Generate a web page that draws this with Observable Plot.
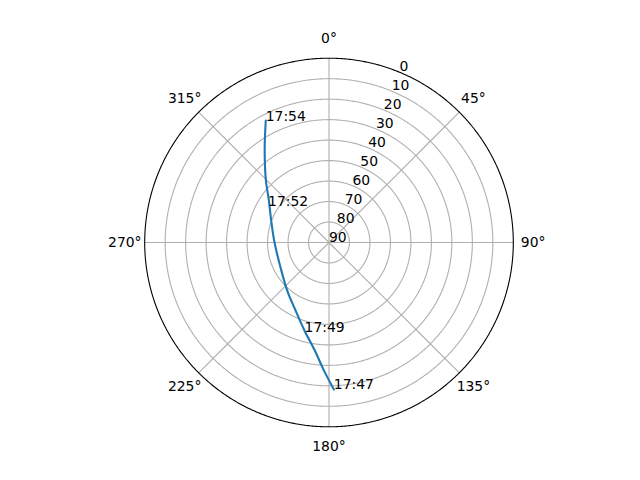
<!DOCTYPE html>
<html><head><meta charset="utf-8">
<script src="https://cdn.jsdelivr.net/npm/d3@7"></script>
<script src="https://cdn.jsdelivr.net/npm/@observablehq/plot@0.6"></script>
<style>body{margin:0;background:#fff}</style>
</head><body><div id="chart"></div>
<script>
// Satellite pass: azimuth (deg, clockwise from north) and elevation (deg)
const azimuth   = [178.1, 182.3, 187.5, 195.6, 206.2, 221.0, 243.0, 270.0, 290.8, 304.9, 314.5, 321.9, 327.0, 332.6];
const elevation = [18.2, 27.5, 36.8, 45.4, 53.0, 58.9, 63.4, 63.4, 59.8, 54.2, 46.8, 39.2, 32.4, 22.9];

const labelTimes = ["17:47", "17:49", "17:52", "17:54"];
const labelAz    = [178.1, 195.2, 301.2, 332.6];
const labelEl    = [18.2, 44.5, 55.2, 22.9];

const ringLevels  = [10, 20, 30, 40, 50, 60, 70, 80];
const radialTicks = [0, 10, 20, 30, 40, 50, 60, 70, 80, 90];
const angleTicks  = [0, 45, 90, 135, 180, 225, 270, 315];

const track  = azimuth.map((a, i) => ({az: a, el: elevation[i]}));
const labels = labelTimes.map((t, i) => ({t, az: labelAz[i], el: labelEl[i]}));
const lon = az => 180 - az;
const cap = r => d3.geoCircle().center([0, 90]).radius(r).precision(0.5)();

const chart = Plot.plot({
  width: 640, height: 480,
  marginLeft: 144.2, marginRight: 127.2, marginTop: 57.7, marginBottom: 53.7,
  projection: {type: "azimuthal-equidistant", rotate: [0, -90], domain: cap(90), clip: false},
  style: {fontFamily: "'DejaVu Sans', sans-serif", fontSize: "13.9px", background: "white", color: "black"},
  marks: [
    Plot.geo(ringLevels, {geometry: e => cap(90 - e), stroke: "#b0b0b0", strokeWidth: 1.1, fill: "none", strokeOpacity: 1}),
    Plot.geo(angleTicks, {geometry: a => ({type: "LineString", coordinates: [[lon(a), 90], [lon(a), 0]]}), stroke: "#b0b0b0", strokeWidth: 1.1, strokeOpacity: 1}),
    Plot.geo([90], {geometry: r => cap(r), stroke: "black", strokeWidth: 1.1, fill: "none", strokeOpacity: 1}),
    Plot.line(track, {x: d => lon(d.az), y: d => d.el, stroke: "#1f77b4", strokeWidth: 2.1, curve: "catmull-rom"}),
    Plot.text(radialTicks, {x: () => lon(22.5), y: d => d, text: d => String(d), textAnchor: "start", lineAnchor: "bottom", fill: "black", dy: -1}),
    Plot.text(angleTicks, {x: a => lon(a), y: () => -9.7, text: a => a + "°", textAnchor: "middle", lineAnchor: "middle", fill: "black"}),
    Plot.text(labels, {x: d => lon(d.az), y: d => d.el, text: d => d.t, textAnchor: "start", lineAnchor: "bottom", fill: "black"})
  ]
});
document.getElementById("chart").appendChild(chart);
</script>
</body></html>
